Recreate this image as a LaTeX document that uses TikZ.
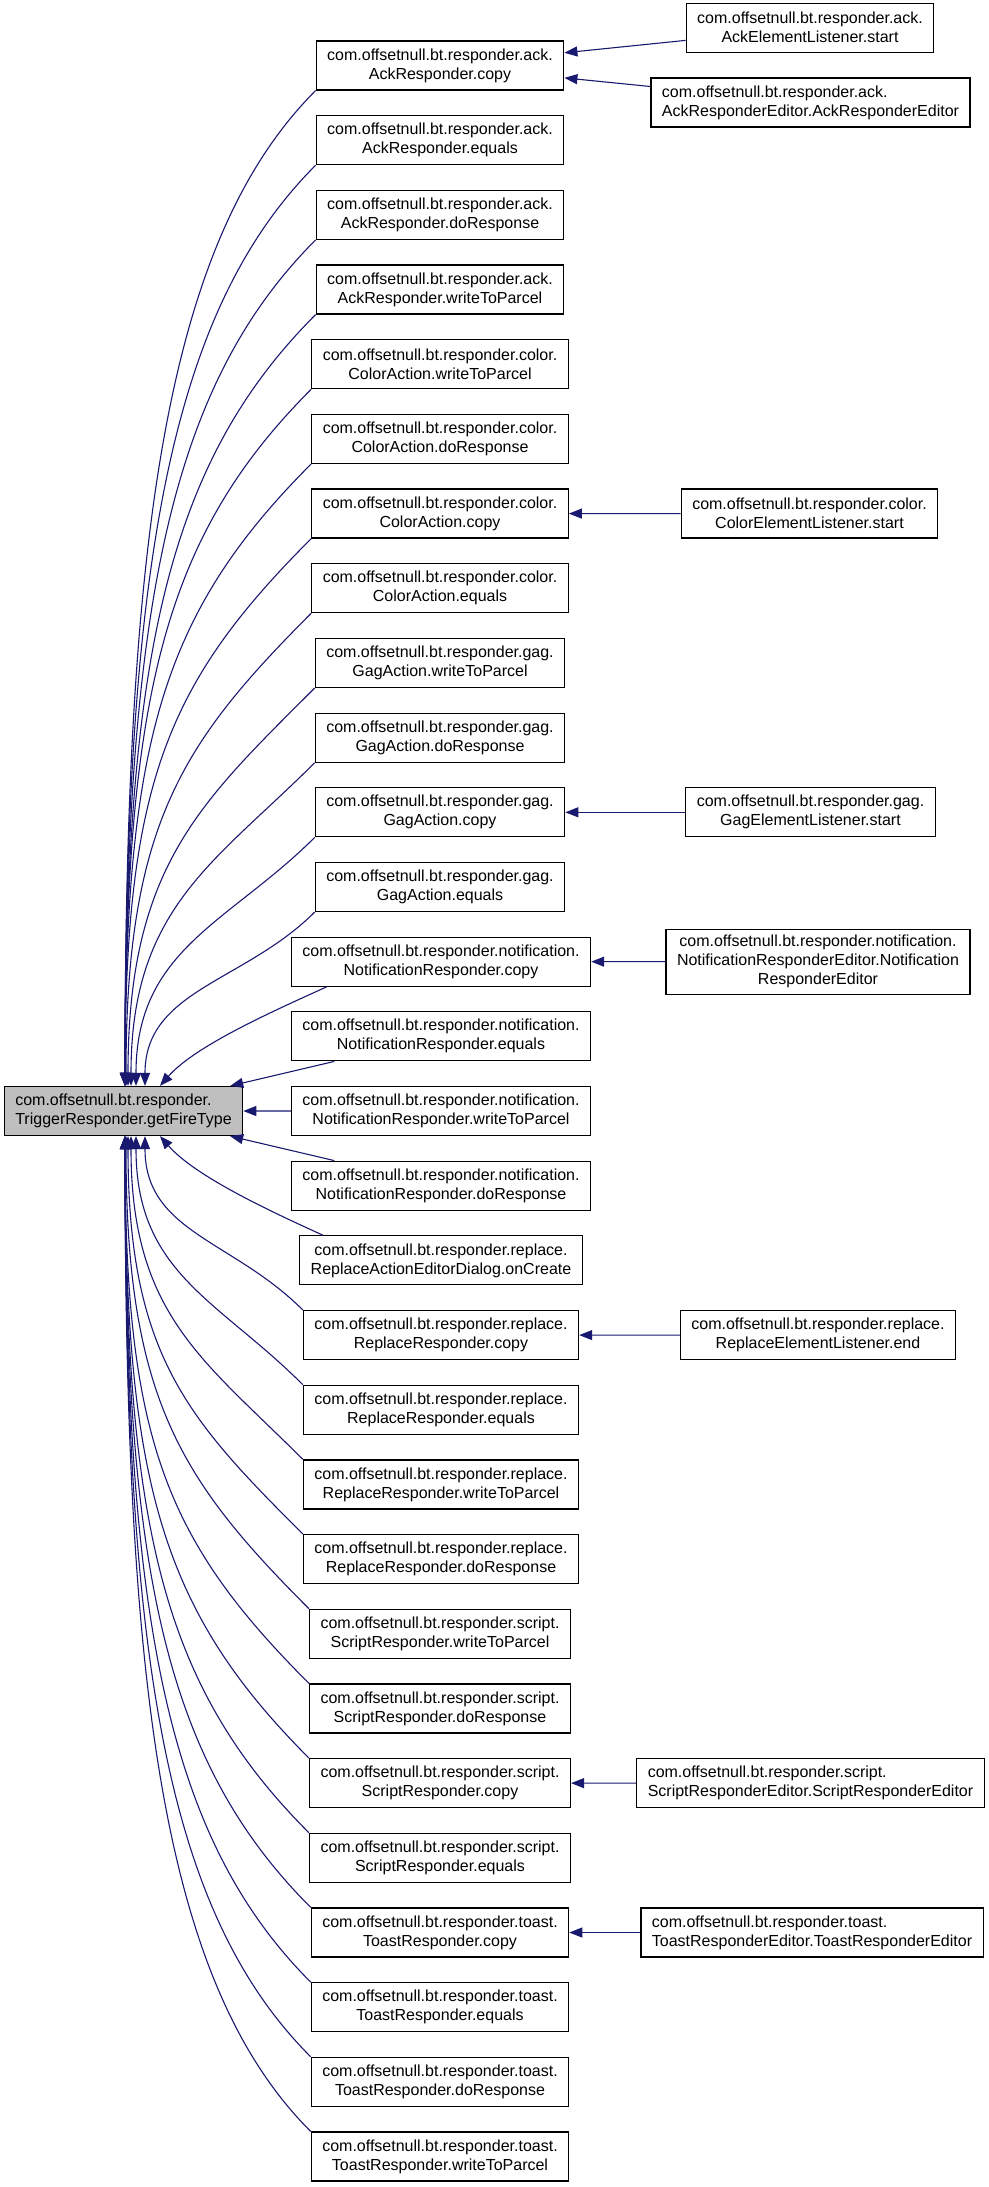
\documentclass[tikz,border=0pt]{standalone}
\usepackage{fontspec}
\setmainfont{Liberation Sans}
\usetikzlibrary{arrows.meta, positioning}
\definecolor{dxblue}{HTML}{191970}
\definecolor{dxgray}{HTML}{BFBFBF}

\begin{document}
\begin{tikzpicture}[
  x=0.5pt, y=-0.5pt,
  every node/.style={font=\fontsize{8}{9.5}\selectfont},
  fnbox/.style={rectangle, draw=black, line width=0.6pt, fill=white, inner xsep=5.5pt, inner ysep=3pt, minimum height=24.5pt, align=#1},
  fnbox/.default=center,
  link/.style={-{Triangle[length=6.5pt, width=5pt]}, draw=dxblue, line width=0.55pt},
]
\useasboundingbox (0,0) rectangle (989,2187);

% Function whose callers are shown
\node[fnbox=left, fill=dxgray] (tr) at (123.5, 1111) {com.offsetnull.bt.responder.\\TriggerResponder.getFireType};

% Direct callers
\node[fnbox] (a1) at (440, 65.5) {com.offsetnull.bt.responder.ack.\\AckResponder.copy};
\node[fnbox] (a2) at (440, 140.18) {com.offsetnull.bt.responder.ack.\\AckResponder.equals};
\node[fnbox] (a3) at (440, 214.86) {com.offsetnull.bt.responder.ack.\\AckResponder.doResponse};
\node[fnbox] (a4) at (440, 289.54) {com.offsetnull.bt.responder.ack.\\AckResponder.writeToParcel};
\node[fnbox] (c1) at (440, 364.22) {com.offsetnull.bt.responder.color.\\ColorAction.writeToParcel};
\node[fnbox] (c2) at (440, 438.9) {com.offsetnull.bt.responder.color.\\ColorAction.doResponse};
\node[fnbox] (c3) at (440, 513.58) {com.offsetnull.bt.responder.color.\\ColorAction.copy};
\node[fnbox] (c4) at (440, 588.26) {com.offsetnull.bt.responder.color.\\ColorAction.equals};
\node[fnbox] (g1) at (440, 662.94) {com.offsetnull.bt.responder.gag.\\GagAction.writeToParcel};
\node[fnbox] (g2) at (440, 737.62) {com.offsetnull.bt.responder.gag.\\GagAction.doResponse};
\node[fnbox] (g3) at (440, 812.3) {com.offsetnull.bt.responder.gag.\\GagAction.copy};
\node[fnbox] (g4) at (440, 886.98) {com.offsetnull.bt.responder.gag.\\GagAction.equals};
\node[fnbox] (n1) at (441, 961.66) {com.offsetnull.bt.responder.notification.\\NotificationResponder.copy};
\node[fnbox] (n2) at (441, 1036.34) {com.offsetnull.bt.responder.notification.\\NotificationResponder.equals};
\node[fnbox] (n3) at (441, 1111.02) {com.offsetnull.bt.responder.notification.\\NotificationResponder.writeToParcel};
\node[fnbox] (n4) at (441, 1185.7) {com.offsetnull.bt.responder.notification.\\NotificationResponder.doResponse};
\node[fnbox] (r1) at (441, 1260.38) {com.offsetnull.bt.responder.replace.\\ReplaceActionEditorDialog.onCreate};
\node[fnbox] (r2) at (441, 1335.06) {com.offsetnull.bt.responder.replace.\\ReplaceResponder.copy};
\node[fnbox] (r3) at (441, 1409.74) {com.offsetnull.bt.responder.replace.\\ReplaceResponder.equals};
\node[fnbox] (r4) at (441, 1484.42) {com.offsetnull.bt.responder.replace.\\ReplaceResponder.writeToParcel};
\node[fnbox] (r5) at (441, 1559.1) {com.offsetnull.bt.responder.replace.\\ReplaceResponder.doResponse};
\node[fnbox] (s1) at (440, 1633.78) {com.offsetnull.bt.responder.script.\\ScriptResponder.writeToParcel};
\node[fnbox] (s2) at (440, 1708.46) {com.offsetnull.bt.responder.script.\\ScriptResponder.doResponse};
\node[fnbox] (s3) at (440, 1783.14) {com.offsetnull.bt.responder.script.\\ScriptResponder.copy};
\node[fnbox] (s4) at (440, 1857.82) {com.offsetnull.bt.responder.script.\\ScriptResponder.equals};
\node[fnbox] (t1) at (440, 1932.5) {com.offsetnull.bt.responder.toast.\\ToastResponder.copy};
\node[fnbox] (t2) at (440, 2007.18) {com.offsetnull.bt.responder.toast.\\ToastResponder.equals};
\node[fnbox] (t3) at (440, 2081.86) {com.offsetnull.bt.responder.toast.\\ToastResponder.doResponse};
\node[fnbox] (t4) at (440, 2156.54) {com.offsetnull.bt.responder.toast.\\ToastResponder.writeToParcel};

% Second level callers
\node[fnbox] (ae1) at (810, 27.7) {com.offsetnull.bt.responder.ack.\\AckElementListener.start};
\node[fnbox=left] (ae2) at (810.5, 102.5) {com.offsetnull.bt.responder.ack.\\AckResponderEditor.AckResponderEditor};
\node[fnbox] (ce1) at (809.5, 513.6) {com.offsetnull.bt.responder.color.\\ColorElementListener.start};
\node[fnbox] (ge1) at (810.5, 812.3) {com.offsetnull.bt.responder.gag.\\GagElementListener.start};
\node[fnbox] (ne1) at (818, 961.7) {com.offsetnull.bt.responder.notification.\\NotificationResponderEditor.Notification\\ResponderEditor};
\node[fnbox] (re1) at (818, 1335.1) {com.offsetnull.bt.responder.replace.\\ReplaceElementListener.end};
\node[fnbox=left] (se1) at (810.5, 1783.1) {com.offsetnull.bt.responder.script.\\ScriptResponderEditor.ScriptResponderEditor};
\node[fnbox=left] (te1) at (812, 1932.5) {com.offsetnull.bt.responder.toast.\\ToastResponderEditor.ToastResponderEditor};

% Edges from callers above
\draw[link] (a1.south west) .. controls +(-150,150) and +(0,-548) .. (125,0 |- tr.north);
\draw[link] (a2.south west) .. controls +(-150,150) and +(0,-507) .. (125,0 |- tr.north);
\draw[link] (a3.south west) .. controls +(-150,150) and +(0,-466) .. (125,0 |- tr.north);
\draw[link] (a4.south west) .. controls +(-150,150) and +(0,-425) .. (125,0 |- tr.north);
\draw[link] (c1.south west) .. controls +(-150,150) and +(0,-384) .. (125,0 |- tr.north);
\draw[link] (c2.south west) .. controls +(-150,150) and +(0,-342) .. (125,0 |- tr.north);
\draw[link] (c3.south west) .. controls +(-145,145) and +(0,-301) .. (125,0 |- tr.north);
\draw[link] (c4.south west) .. controls +(-130,130) and +(0,-260) .. (126,0 |- tr.north);
\draw[link] (g1.south west) .. controls +(-115,115) and +(0,-219) .. (128,0 |- tr.north);
\draw[link] (g2.south west) .. controls +(-100,100) and +(0,-178) .. (131,0 |- tr.north);
\draw[link] (g3.south west) .. controls +(-85,85) and +(0,-137) .. (136,0 |- tr.north);
\draw[link] (g4.south west) .. controls +(-70,70) and +(0,-96) .. (145,0 |- tr.north);
\draw[link] ([xshift=18pt]n1.south west) .. controls +(-55,25) and +(35,-40) .. (160,0 |- tr.north);

% Edges from neighbours
\draw[link] (n2) -- (tr);
\draw[link] (n3) -- (tr);
\draw[link] (n4) -- (tr);

% Edges from callers below
\draw[link] ([xshift=12pt]r1.north west) .. controls +(-55,-25) and +(35,40) .. (160,0 |- tr.south);
\draw[link] (r2.north west) .. controls +(-70,-70) and +(0,96) .. (145,0 |- tr.south);
\draw[link] (r3.north west) .. controls +(-85,-85) and +(0,137) .. (136,0 |- tr.south);
\draw[link] (r4.north west) .. controls +(-100,-100) and +(0,178) .. (131,0 |- tr.south);
\draw[link] (r5.north west) .. controls +(-115,-115) and +(0,219) .. (128,0 |- tr.south);
\draw[link] (s1.north west) .. controls +(-130,-130) and +(0,260) .. (126,0 |- tr.south);
\draw[link] (s2.north west) .. controls +(-145,-145) and +(0,301) .. (125,0 |- tr.south);
\draw[link] (s3.north west) .. controls +(-150,-150) and +(0,342) .. (125,0 |- tr.south);
\draw[link] (s4.north west) .. controls +(-150,-150) and +(0,384) .. (125,0 |- tr.south);
\draw[link] (t1.north west) .. controls +(-150,-150) and +(0,425) .. (125,0 |- tr.south);
\draw[link] (t2.north west) .. controls +(-150,-150) and +(0,466) .. (125,0 |- tr.south);
\draw[link] (t3.north west) .. controls +(-150,-150) and +(0,507) .. (125,0 |- tr.south);
\draw[link] (t4.north west) .. controls +(-150,-150) and +(0,548) .. (125,0 |- tr.south);

% Second level edges
\draw[link] (ae1) -- (a1);
\draw[link] (ae2) -- (a1);
\draw[link] (ce1) -- (c3);
\draw[link] (ge1) -- (g3);
\draw[link] (ne1) -- (n1);
\draw[link] (re1) -- (r2);
\draw[link] (se1) -- (s3);
\draw[link] (te1) -- (t1);

\end{tikzpicture}
\end{document}
